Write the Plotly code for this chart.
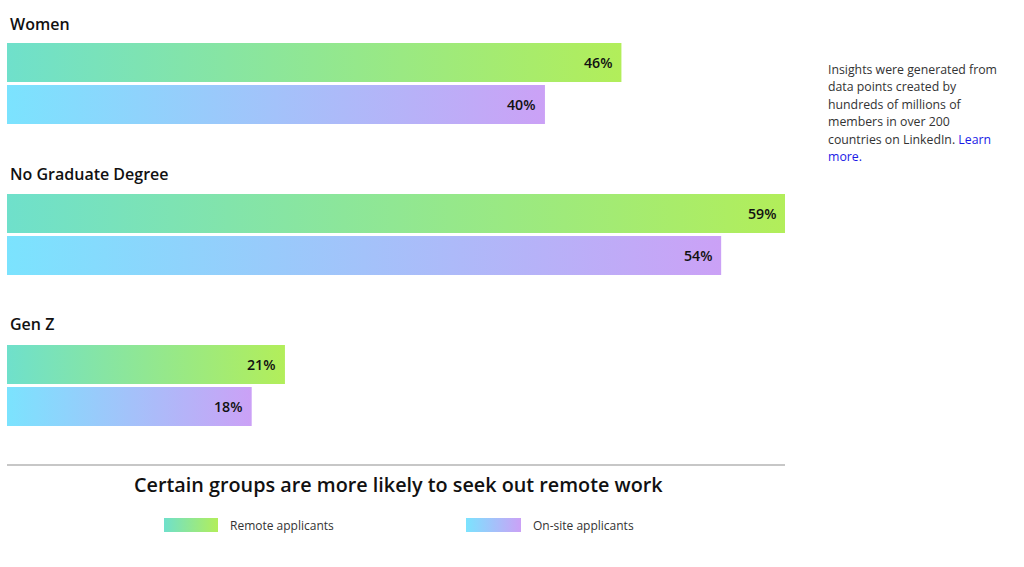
import plotly.graph_objects as go

groups = ["Women", "No Graduate Degree", "Gen Z"]
remote = [46.2, 58.5, 20.9]
onsite = [40.45, 53.7, 18.4]
remote_labels = ["46%", "59%", "21%"]
onsite_labels = ["40%", "54%", "18%"]
title = "Certain groups are more likely to seek out remote work"
legend_names = ["Remote applicants", "On-site applicants"]
note_lines = ["Insights were generated from", "data points created by", "hundreds of millions of",
              "members in over 200", "countries on LinkedIn. <span style='color:#1a1ae6'>Learn</span>",
              "<span style='color:#1a1ae6'>more.</span>"]

W, H = 1024, 567
FONT = "Open Sans"
INK = "#111111"
REMOTE_SCALE = [[0, "#6FE0CB"], [1, "#B2EE5A"]]
ONSITE_SCALE = [[0, "#7BE3FE"], [1, "#CBA1F6"]]
PX_L, PX_R = 7, 785
X_MAX = 58.5
GROUP_PX0, GROUP_STEP = 83.5, 151.0
BAR_H, OFF = 39, 21


def px_x(px):
    return (px - PX_L) / (PX_R - PX_L) * X_MAX


def rect(x0, x1, ptop, pbot, scale):
    return go.Scatter(x=[x0, x1, x1, x0, x0], y=[ptop, ptop, pbot, pbot, ptop], mode="lines",
                      line=dict(width=0), fill="toself", hoverinfo="skip", showlegend=False,
                      fillgradient=dict(type="horizontal", colorscale=scale))


fig = go.Figure()
ann = []


def note(px, py, text, size, weight=400, color=INK, anchor="left"):
    ann.append(dict(xref="paper", yref="paper", x=px / W, y=1 - py / H, text=text, showarrow=False,
                    xanchor=anchor, yanchor="middle", align=anchor,
                    font=dict(family=FONT, size=size, color=color, weight=weight)))


for i, g in enumerate(groups):
    c = GROUP_PX0 + i * GROUP_STEP
    for v, lab, sign, scale in ((remote[i], remote_labels[i], -1, REMOTE_SCALE),
                                (onsite[i], onsite_labels[i], 1, ONSITE_SCALE)):
        mid = c + sign * OFF
        fig.add_trace(rect(0, v, mid - BAR_H / 2, mid + BAR_H / 2, scale))
        ann.append(dict(xref="x", yref="y", x=v, y=mid, text=lab, showarrow=False, xanchor="right",
                        yanchor="middle", xshift=-7.5,
                        font=dict(family=FONT, size=14.2, color=INK, weight=600)))
    note(7.5, 24 + i * 150, g, 16, 600)

for name, px0, px1, tx, scale in ((legend_names[0], 164, 218, 228, REMOTE_SCALE),
                                  (legend_names[1], 466, 521, 530.5, ONSITE_SCALE)):
    fig.add_trace(rect(px_x(px0), px_x(px1), 518, 532, scale))
    note(tx, 525, name, 12, 400, "#333333")

note(398, 484, title, 19.8, 600, INK, "center")
for j, line in enumerate(note_lines):
    note(826, 69.5 + j * 17.4, line, 12.3, 400, "#333333")

fig.update_layout(
    width=W, height=H, margin=dict(l=0, r=0, t=0, b=0), autosize=False,
    paper_bgcolor="white", plot_bgcolor="white", showlegend=False, annotations=ann,
    xaxis=dict(domain=[PX_L / W, PX_R / W], range=[0, X_MAX], visible=False, fixedrange=True),
    yaxis=dict(domain=[0, 1], range=[H, 0], visible=False, fixedrange=True),
    shapes=[dict(type="line", xref="x", yref="y", x0=0, x1=X_MAX, y0=465, y1=465,
                 line=dict(color="#b5b5b5", width=1.5))],
)
fig.write_html("out.html", config=dict(displayModeBar=False),
               post_script="document.body.style.margin='0';")
